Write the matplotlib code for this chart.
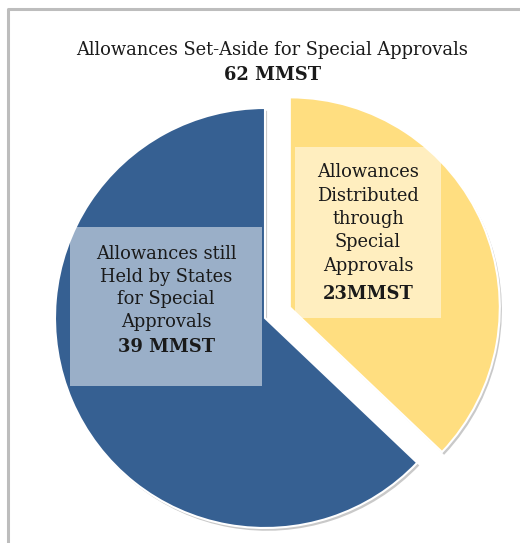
import matplotlib
matplotlib.use("Agg")
import matplotlib.pyplot as plt
from matplotlib.patches import Rectangle
import matplotlib.patheffects as pe

plt.rcParams['font.family'] = ['DejaVu Serif']

labels = ["Allowances\nDistributed\nthrough\nSpecial\nApprovals", "Allowances still\nHeld by States\nfor Special\nApprovals"]
values = [23, 39]
value_labels = ["23MMST", "39 MMST"]
colors = ["#FFDE80", "#366092"]
title_line1 = "Allowances Set-Aside for Special Approvals"
title_line2 = "62 MMST"

W, H = 520, 543
fig = plt.figure(figsize=(W / 100, H / 100), dpi=100)
ax = fig.add_axes([0, 0, 1, 1])
ax.set_xlim(0, W)
ax.set_ylim(0, H)
ax.set_aspect('equal')
ax.axis('off')

# border (top and left visible)
ax.plot([8, 8, W + 5], [-5, H - 9, H - 9], color="#BDBDBD", lw=2.2, solid_capstyle='butt')

R = 210
cx, cy = 265, H - 318
wedges, _ = ax.pie(values, colors=colors, startangle=90, counterclock=False,
                   radius=R, center=(cx, cy), explode=[27, 0],
                   wedgeprops=dict(edgecolor="white", linewidth=1.5))
for w in wedges:
    w.set_path_effects([pe.SimplePatchShadow(offset=(1.5, -2), shadow_rgbFace="#888888", alpha=0.45),
                        pe.Normal()])
ax.set_xlim(0, W)
ax.set_ylim(0, H)

# label boxes
ax.add_patch(Rectangle((295, H - 318), 146, 171, facecolor="white", alpha=0.5, edgecolor="none", zorder=3))
ax.add_patch(Rectangle((70, H - 386), 192, 159, facecolor="white", alpha=0.5, edgecolor="none", zorder=3))

fs = 12.9
tc = "#1a1a1a"
ax.text(368, H - 219, labels[0], ha='center', va='center', fontsize=fs, linespacing=1.38, color=tc, zorder=4)
ax.text(368, H - 294, value_labels[0], ha='center', va='center', fontsize=fs, fontweight='bold', color=tc, zorder=4)
ax.text(166, H - 288, labels[1], ha='center', va='center', fontsize=fs, linespacing=1.32, color=tc, zorder=4)
ax.text(166, H - 347, value_labels[1], ha='center', va='center', fontsize=fs, fontweight='bold', color=tc, zorder=4)

ax.text(272, H - 50, title_line1, ha='center', va='center', fontsize=fs, color=tc)
ax.text(272, H - 75, title_line2, ha='center', va='center', fontsize=fs, fontweight='bold', color=tc)

fig.savefig("out.png", dpi=100, facecolor="white")
